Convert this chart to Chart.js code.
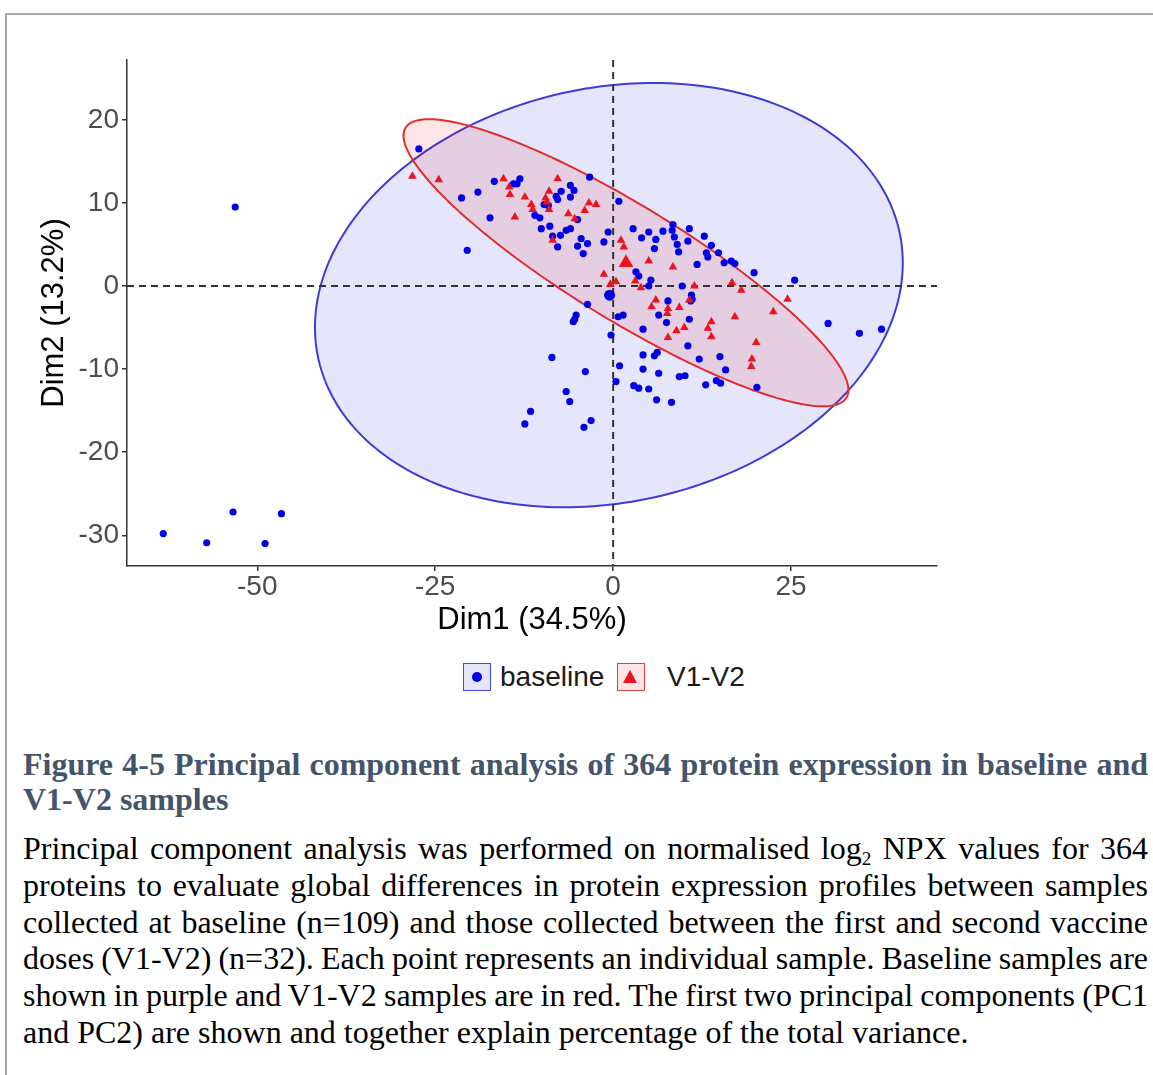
<!DOCTYPE html>
<html>
<head>
<meta charset="utf-8">
<script src="https://cdn.jsdelivr.net/npm/chart.js@4.4.0/dist/chart.umd.min.js"></script>
<style>
    body { margin: 0; background: #fff; }
    #page { position: relative; width: 1153px; height: 1075px; overflow: hidden; }
    #frame { position: absolute; left: 5px; top: 13px; width: 1200px; height: 1100px;
             border-left: 2px solid #a8a8a8; border-top: 2px solid #a8a8a8; }
    #chart { position: absolute; left: 0; top: 0; }
    .key { position: absolute; top: 663px; width: 28px; height: 28px; box-sizing: border-box; }
    .key.blue { left: 463px; border: 1.5px solid rgb(70,70,220); background: rgb(228,228,251); }
    .key.red { left: 617px; border: 1.5px solid rgb(230,60,60); background: rgb(253,229,229); }
    .dot { position: absolute; left: 8px; top: 8px; width: 10px; height: 10px; border-radius: 50%; background: rgb(0,0,230); }
    .tri { position: absolute; left: 5px; top: 6px; width: 0; height: 0;
           border-left: 7.5px solid transparent; border-right: 7.5px solid transparent; border-bottom: 13px solid rgb(235,20,30); }
    .ltext { position: absolute; top: 660px; font: 28px 'Liberation Sans', Arial, sans-serif; color: #1a1a1a; line-height: 34px; }
    #caption { position: absolute; left: 23px; top: 747px; width: 1125px; font-family: 'Liberation Serif', 'Times New Roman', serif; }
    .title { font-size: 32px; font-weight: bold; color: #44546a; line-height: 35px; }
    .body { font-size: 32px; color: #000; line-height: 36.8px; }
    .j { text-align: justify; text-align-last: justify; white-space: nowrap; word-spacing: -4px; }
    .sub { font-size: 60%; position: relative; top: 0.3em; line-height: 0; }
</style>
</head>
<body>
<div id="page">
    <div id="frame"></div>
    <canvas id="chart" width="960" height="650"></canvas>

    <div class="key blue"><div class="dot"></div></div>
    <div class="ltext" style="left:500px">baseline</div>
    <div class="key red"><div class="tri"></div></div>
    <div class="ltext" style="left:667px">V1-V2</div>

    <div id="caption">
        <div class="title j">Figure 4-5 Principal component analysis of 364 protein expression in baseline and</div>
        <div class="title">V1-V2 samples</div>
        <div style="height:13px"></div>
        <div class="body j">Principal component analysis was performed on normalised log<span class="sub">2</span> NPX values for 364</div>
        <div class="body j">proteins to evaluate global differences in protein expression profiles between samples</div>
        <div class="body j">collected at baseline (n=109) and those collected between the first and second vaccine</div>
        <div class="body j">doses (V1-V2) (n=32). Each point represents an individual sample. Baseline samples are</div>
        <div class="body j">shown in purple and V1-V2 samples are in red. The first two principal components (PC1</div>
        <div class="body">and PC2) are shown and together explain percentage of the total variance.</div>
    </div>
</div>

<script>
// Axis ranges and ticks
const xRange = [-68.3, 45.5];
const yRange = [-33.7, 27.2];
const xTicks = [-50, -25, 0, 25];
const yTicks = [-30, -20, -10, 0, 10, 20];

// Individuals: [Dim1, Dim2]
const baseline = [
    [-27.3, 16.5], [-21.3, 10.6], [-19.0, 11.3], [-17.3, 8.2], [-20.5, 4.3], [-16.7, 12.6], [-14.0, 12.3],
    [-13.5, 12.3], [-13.1, 12.9], [-11.0, 8.5], [-10.3, 8.2], [-10.1, 6.9], [-8.9, 7.2], [-8.5, 6.0],
    [-7.8, 4.7], [-7.4, 6.1], [-6.6, 6.7], [-6.0, 6.9], [-9.7, 9.8], [-9.1, 9.7], [-8.0, 10.8],
    [-7.8, 10.4], [-7.3, 11.4], [-6.0, 12.1], [-5.5, 11.5], [-6.0, 10.7], [-5.0, 8.0], [-4.5, 5.7],
    [-5.0, 4.8], [-3.6, 5.1], [-4.2, 3.9], [-3.3, 13.1], [-1.3, 5.3], [-0.7, 6.5], [0.8, 10.2],
    [2.8, 6.9], [4.0, 5.8], [3.2, 1.7],
    [-3.6, -2.2], [-5.2, -3.5], [-5.4, -4.0], [-5.6, -4.3], [0.7, -3.7], [1.4, -3.5], [-0.3, -5.9],
    [4.2, -5.2], [4.2, -8.3], [5.8, -8.4], [6.2, -8.0], [0.9, -9.6], [-3.9, -10.3], [4.2, -10.0],
    [6.4, -10.5], [9.3, -10.9], [10.1, -10.8], [5.0, 6.5], [6.0, 5.6], [7.0, 6.6], [5.8, 4.5],
    [8.4, 7.4], [8.3, 6.7], [8.6, 5.9], [9.0, 5.0], [9.2, 4.1], [10.7, 6.9], [10.5, 5.4], [12.8, 6.0],
    [13.8, 4.9], [13.1, 4.0], [13.3, 3.5], [14.8, 4.0], [11.8, 2.6], [15.6, 2.8], [16.6, 3.0],
    [17.1, 2.7], [19.8, 1.6], [25.5, 0.7], [3.6, 1.2], [5.3, 0.7], [5.0, 0.0], [9.7, 0.0],
    [11.0, -1.1], [11.1, -1.6], [10.9, -1.8], [7.7, -1.8], [6.4, -3.5], [7.5, -4.4], [10.7, -4.0],
    [10.5, -7.2], [12.1, -8.8], [15.0, -8.5], [15.8, -10.1],
    [13.0, -11.9], [14.5, -11.4], [15.1, -11.7], [20.2, -12.2], [30.2, -4.5], [34.6, -5.7], [37.7, -5.2],
    [-8.6, -8.6], [0.4, -11.5], [2.9, -12.0], [3.6, -12.3], [5.0, -12.4], [6.1, -13.7], [8.2, -14.0],
    [-6.6, -12.7], [-6.1, -13.9], [-11.6, -15.1], [-12.4, -16.6], [-3.1, -16.2], [-4.1, -17.0],
    [-53.1, 9.5], [-63.2, -29.8], [-57.1, -30.9], [-53.4, -27.2], [-48.9, -31.0], [-46.6, -27.4]
];

const v1v2 = [
    [-28.2, 13.2], [-24.5, 12.8], [-15.4, 12.9], [-14.6, 11.9], [-14.5, 11.0], [-12.4, 10.7],
    [-13.8, 8.3], [-11.5, 9.8], [-11.3, 9.2], [-9.5, 10.6], [-9.3, 10.1], [-9.0, 11.4], [-9.0, 9.2],
    [-7.8, 12.9], [-6.3, 8.7], [-4.0, 9.1], [-3.4, 10.0], [-2.4, 9.8], [-5.4, 8.1], [-8.5, 5.5],
    [1.1, 5.5], [1.5, 4.7], [-1.3, 1.4], [-0.4, 0.2], [0.4, 0.5],
    [3.1, 0.6], [3.9, -0.2], [5.0, 3.0], [8.4, 2.3], [11.4, 0.0], [6.0, -1.7], [5.4, -2.5],
    [7.7, -2.7], [7.6, -3.3], [9.3, -2.6], [10.7, -1.7], [13.8, -4.3], [13.3, -5.1], [13.8, -6.1],
    [10.0, -5.0], [8.9, -5.4], [7.7, -6.2], [16.7, 0.4], [18.0, -0.5], [17.1, -3.7], [20.1, -6.8],
    [19.5, -8.8], [19.4, -9.7], [22.5, -3.1], [24.5, -1.6]
];

// Group means
const baselineMean = [[-0.5, -1.1]];
const v1v2Mean = [[1.8, 2.8]];

// Concentration ellipses: [centre Dim1, centre Dim2, var Dim1, cov, var Dim2]
const baselineEllipse = [-0.6, -1.1, 1705, 160, 652];
const v1v2Ellipse = [1.8, 2.8, 976.6, -478.1, 298.5];

const toXY = arr => arr.map(p => ({ x: p[0], y: p[1] }));

// Draw ellipses and zero lines under the points
const backdropPlugin = {
    id: 'backdrop',
    beforeDatasetsDraw(chart) {
        const { ctx, chartArea, scales: { x, y } } = chart;
        ctx.save();
        ctx.beginPath();
        ctx.rect(chartArea.left, chartArea.top, chartArea.width, chartArea.height);
        ctx.clip();

        const shapes = [
            [baselineEllipse, 'rgba(0, 0, 230, 0.1)', 'rgb(60, 60, 215)'],
            [v1v2Ellipse, 'rgba(240, 0, 0, 0.1)', 'rgb(225, 45, 45)']
        ];
        shapes.forEach(([e, fill, stroke]) => {
            const [cx, cy, sxx, sxy, syy] = e;
            const a = Math.sqrt(sxx);
            const b = sxy / a;
            const d = Math.sqrt(syy - b * b);
            ctx.beginPath();
            for (let i = 0; i <= 240; i++) {
                const t = i / 240 * Math.PI * 2;
                const px = x.getPixelForValue(cx + a * Math.cos(t));
                const py = y.getPixelForValue(cy + b * Math.cos(t) + d * Math.sin(t));
                if (i === 0) ctx.moveTo(px, py); else ctx.lineTo(px, py);
            }
            ctx.closePath();
            ctx.fillStyle = fill;
            ctx.fill();
            ctx.lineWidth = 2;
            ctx.strokeStyle = stroke;
            ctx.stroke();
        });

        // dashed zero lines
        const x0 = x.getPixelForValue(0);
        const y0 = y.getPixelForValue(0);
        ctx.setLineDash([7, 5]);
        ctx.lineWidth = 2;
        ctx.strokeStyle = '#333';
        ctx.beginPath();
        ctx.moveTo(chartArea.left, y0);
        ctx.lineTo(chartArea.right, y0);
        ctx.moveTo(x0, chartArea.top);
        ctx.lineTo(x0, chartArea.bottom);
        ctx.stroke();
        ctx.restore();
    }
};

const tickFont = { family: "'Liberation Sans', Arial, sans-serif", size: 28, lineHeight: 1 };
const titleFont = { family: "'Liberation Sans', Arial, sans-serif", size: 31 };

new Chart(document.getElementById('chart'), {
    type: 'scatter',
    data: {
        datasets: [
            {
                label: 'baseline', data: toXY(baseline), order: 2,
                pointStyle: 'circle', pointRadius: 3.6, pointBorderWidth: 0,
                pointBackgroundColor: 'rgb(0, 0, 230)'
            },
            {
                label: 'V1-V2', data: toXY(v1v2), order: 1,
                pointStyle: 'triangle', pointRadius: 5, pointBorderWidth: 0,
                pointBackgroundColor: 'rgb(235, 20, 30)'
            },
            {
                label: 'baseline mean', data: toXY(baselineMean), order: 0,
                pointStyle: 'circle', pointRadius: 5.5, pointBorderWidth: 0,
                pointBackgroundColor: 'rgb(0, 0, 230)'
            },
            {
                label: 'V1-V2 mean', data: toXY(v1v2Mean), order: 0,
                pointStyle: 'triangle', pointRadius: 8.5, pointBorderWidth: 0,
                pointBackgroundColor: 'rgb(235, 20, 30)'
            }
        ]
    },
    options: {
        responsive: false,
        animation: false,
        layout: { padding: { left: 0, top: 60, right: 23, bottom: 0 } },
        plugins: { legend: { display: false }, tooltip: { enabled: false } },
        scales: {
            x: {
                type: 'linear', min: xRange[0], max: xRange[1],
                afterBuildTicks: s => { s.ticks = xTicks.map(v => ({ value: v })); },
                afterFit: s => { s.height = 84; },
                ticks: { font: tickFont, color: '#4d4d4d', padding: 2, maxRotation: 0 },
                grid: { display: true, drawOnChartArea: false, drawTicks: true, tickLength: 5, color: '#333', lineWidth: 1.5 },
                border: { display: true, color: '#333', width: 1.5 },
                title: { display: true, text: 'Dim1 (34.5%)', font: titleFont, color: '#000', padding: { top: 0, bottom: 11 } }
            },
            y: {
                type: 'linear', min: yRange[0], max: yRange[1],
                afterBuildTicks: s => { s.ticks = yTicks.map(v => ({ value: v })); },
                afterFit: s => { s.width = 127; },
                ticks: { font: tickFont, color: '#4d4d4d', padding: 3 },
                grid: { display: true, drawOnChartArea: false, drawTicks: true, tickLength: 5, color: '#333', lineWidth: 1.5 },
                border: { display: true, color: '#333', width: 1.5 },
                title: { display: true, text: 'Dim2 (13.2%)', font: titleFont, color: '#000', padding: { top: 36, bottom: 0 } }
            }
        }
    },
    plugins: [backdropPlugin]
});
</script>
</body>
</html>
